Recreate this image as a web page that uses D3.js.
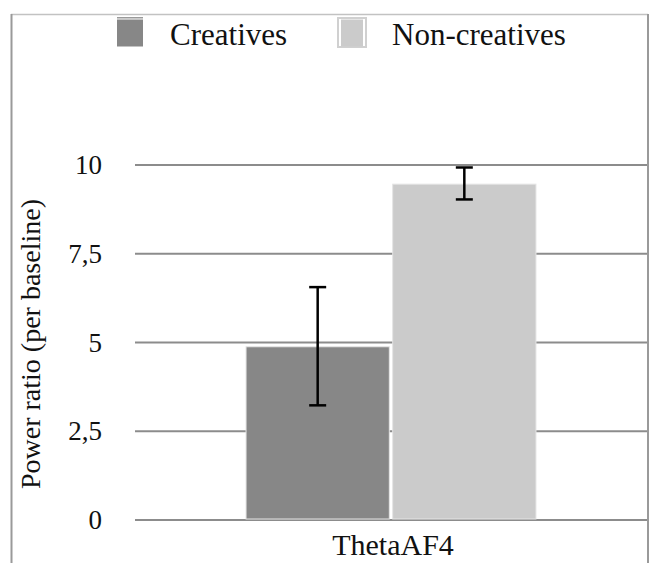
<!DOCTYPE html>
<html>
<head>
<meta charset="utf-8">
<script src="https://cdn.jsdelivr.net/npm/d3@7"></script>
<style>
  body { margin: 0; background: #fff; font-family: 'Liberation Serif'; }
</style>
</head>
<body>
<div id="chart"></div>
<script>
// data
var categories = ['ThetaAF4']
var series = ['Creatives', 'Non-creatives']
var means = [4.88, 9.46]
var errLow = [3.23, 9.03]
var errHigh = [6.56, 9.93]
var colors = ['#878787', '#cbcbcb']
var yTicks = [0, 2.5, 5, 7.5, 10]

var w = 650, h = 563
function fontStyle(size) {
  return 'font-family: Liberation Serif; font-size: ' + size + 'px'
}

var svg = d3.select('#chart')
  .append('svg')
  .attr('width', w)
  .attr('height', h)
  .attr('font-family', 'Liberation Serif')

// text layer first, marks underneath in separate groups (nothing overlaps)
var textLayer = svg.append('g')
var markLayer = svg.insert('g', ':first-child')

var y = d3.scaleLinear()
  .domain([0, 10])
  .range([520, 165])

var x0 = d3.scaleBand()
  .domain(categories)
  .range([135, 647])
  .paddingInner(0)
  .paddingOuter(0.383)

var x1 = d3.scaleBand()
  .domain(series)
  .range([0, x0.bandwidth()])
  .paddingInner(0.023)

// y axis labels
var yAxis = d3.axisLeft(y)
  .tickValues(yTicks)
  .tickSize(0)
  .tickPadding(0)
  .tickFormat(d => String(d).replace('.', ','))

var yg = textLayer.append('g')
  .attr('transform', 'translate(102,0)')
  .call(yAxis)
  .attr('font-family', 'Liberation Serif')
  .attr('font-size', 27)
yg.select('.domain').remove()
yg.selectAll('text')
  .attr('style', fontStyle(27))
  .attr('fill', '#111')

textLayer.append('text')
  .attr('transform', 'translate(40,344) rotate(-90)')
  .attr('text-anchor', 'middle')
  .attr('style', fontStyle(28))
  .attr('fill', '#111')
  .text('Power ratio (per baseline)')

// category label
textLayer.append('text')
  .attr('x', x0(categories[0]) + x0.bandwidth() / 2 + 2)
  .attr('y', 555)
  .attr('text-anchor', 'middle')
  .attr('style', fontStyle(30))
  .attr('fill', '#111')
  .text(categories[0])

// legend labels
series.forEach((s, i) => {
  textLayer.append('text')
    .attr('x', i == 0 ? 170 : 392)
    .attr('y', 45)
    .attr('style', fontStyle(31))
    .attr('fill', '#111')
    .text(s)
})

// outer frame
markLayer.append('line').attr('x1', 11).attr('x2', 648).attr('y1', 14.5).attr('y2', 14.5)
  .attr('stroke', '#c2c2c2').attr('stroke-width', 1.5)
markLayer.append('line').attr('x1', 11.5).attr('x2', 11.5).attr('y1', 14).attr('y2', h)
  .attr('stroke', '#9a9a9a').attr('stroke-width', 2)
markLayer.append('line').attr('x1', 648).attr('x2', 648).attr('y1', 14).attr('y2', h)
  .attr('stroke', '#9a9a9a').attr('stroke-width', 2)

// gridlines
markLayer.append('g')
  .selectAll('line')
  .data(yTicks)
  .enter()
  .append('line')
  .attr('x1', 135)
  .attr('x2', 647)
  .attr('y1', d => y(d))
  .attr('y2', d => y(d))
  .attr('stroke', '#8c8c8c')
  .attr('stroke-width', 2)

// bars
var rows = series.map((s, i) => ({ name: s, cat: categories[0], mean: means[i], lo: errLow[i], hi: errHigh[i], color: colors[i] }))

markLayer.append('g')
  .selectAll('rect')
  .data(rows)
  .enter()
  .append('rect')
  .attr('x', d => x0(d.cat) + x1(d.name))
  .attr('width', x1.bandwidth())
  .attr('y', d => y(d.mean))
  .attr('height', d => y(0) - y(d.mean) - 1)
  .attr('fill', d => d.color)
  .attr('stroke', '#e4e4e4')
  .attr('stroke-width', 1)

// error bars
var eb = markLayer.append('g')
  .attr('stroke', '#000')
  .attr('stroke-width', 2.5)
rows.forEach(d => {
  var cx = x0(d.cat) + x1(d.name) + x1.bandwidth() / 2
  eb.append('line').attr('x1', cx).attr('x2', cx).attr('y1', y(d.hi)).attr('y2', y(d.lo))
  eb.append('line').attr('x1', cx - 8.5).attr('x2', cx + 8.5).attr('y1', y(d.hi)).attr('y2', y(d.hi))
  eb.append('line').attr('x1', cx - 8.5).attr('x2', cx + 8.5).attr('y1', y(d.lo)).attr('y2', y(d.lo))
})

// legend swatches
var legX = [117, 338]
series.forEach((s, i) => {
  if (i == 1) {
    markLayer.append('rect')
      .attr('x', legX[i])
      .attr('y', 18)
      .attr('width', 28)
      .attr('height', 29)
      .attr('fill', '#fff')
      .attr('stroke', '#d0d0d0')
      .attr('stroke-width', 2)
    markLayer.append('rect')
      .attr('x', legX[i] + 3)
      .attr('y', 19.5)
      .attr('width', 22)
      .attr('height', 27)
      .attr('fill', colors[i])
  } else {
    markLayer.append('rect')
      .attr('x', legX[i])
      .attr('y', 17)
      .attr('width', 26)
      .attr('height', 1.5)
      .attr('fill', '#9a9a9a')
    markLayer.append('rect')
      .attr('x', legX[i])
      .attr('y', 19.5)
      .attr('width', 26)
      .attr('height', 27)
      .attr('fill', colors[i])
  }
})
</script>
</body>
</html>
